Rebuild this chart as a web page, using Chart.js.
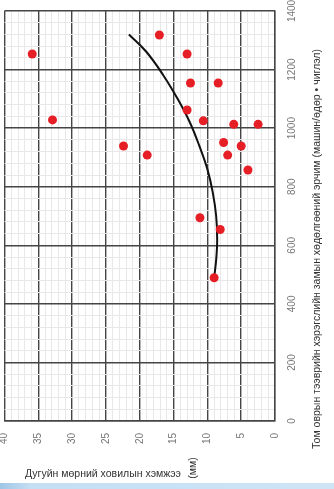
<!DOCTYPE html>
<html><head><meta charset="utf-8">
<script src="https://cdn.jsdelivr.net/npm/chart.js@4.4.0/dist/chart.umd.min.js"></script>
<style>
html,body{margin:0;padding:0;background:#fff;}
#wrap{position:relative;width:334px;height:489px;overflow:hidden;background:#fff;}
#band{position:absolute;left:0;top:483px;width:334px;height:6px;background:linear-gradient(90deg,#9fc6e6 0,#c4def3 30px,#cfe5f6 100%);}
canvas{position:absolute;left:0;top:0;}
</style></head><body>
<div id="wrap"><canvas id="c" width="334" height="489"></canvas><div id="band"></div></div>
<script>
// Measured points: tread depth (mm) vs heavy vehicle traffic (veh/day·direction)
const treadDepth = [35.9, 17.1, 13.0, 12.5, 8.4, 32.9, 13.0, 10.6, 6.1, 2.5, 22.4, 18.9, 7.6, 5.0, 7.0, 4.0, 11.1, 8.1, 9.0];
const traffic    = [1253, 1318, 1253, 1154, 1154, 1028, 1062, 1025, 1013, 1013, 939, 908, 951, 939, 908, 857, 694, 654, 489];
// Trend curve
const curveDepth   = [9.0, 8.7, 8.55, 8.7, 9.2, 10.0, 11.2, 12.6, 14.4, 16.5, 19.0, 21.6];
const curveTraffic = [490, 550, 620, 700, 780, 860, 940, 1020, 1100, 1180, 1260, 1320];
// Tick labels
const xTickLabels = [0, 5, 10, 15, 20, 25, 30, 35, 40];
const yTickLabels = [0, 200, 400, 600, 800, 1000, 1200, 1400];
const xTitle = 'Дугуйн мөрний ховилын хэмжээ';
const xUnit = '(мм)';
const yTitle = 'Том оврын тээврийн хэрэгслийн замын хөдөлгөөний эрчим (машин/өдөр • чиглэл)';

const pts = treadDepth.map((d, i) => ({x: d, y: traffic[i]}));
const curve = curveDepth.map((d, i) => ({x: d, y: curveTraffic[i]}));

const MAJOR = '#454545', MINOR = '#e8e8e8';
const FONT = '"Liberation Sans", Arial, sans-serif';

const titlePlugin = {
  id: 'titles',
  afterDraw(chart) {
    const c = chart.ctx;
    c.save();
    c.fillStyle = '#333';
    c.font = '10.5px ' + FONT;
    c.textBaseline = 'middle';
    c.textAlign = 'left';
    c.fillText(xTitle, 25, 474);
    c.save();
    c.translate(193, 468);
    c.rotate(-Math.PI / 2);
    c.textAlign = 'center';
    c.fillText(xUnit, 0, 0);
    c.restore();
    c.save();
    c.translate(317, 249);
    c.rotate(-Math.PI / 2);
    c.textAlign = 'center';
    c.font = '10.5px ' + FONT;
    c.fillText(yTitle, 0, 0);
    c.restore();
    c.restore();
  }
};

new Chart(document.getElementById('c'), {
  type: 'scatter',
  data: {
    datasets: [
      {
        data: curve,
        showLine: true,
        borderColor: '#111',
        borderWidth: 2,
        pointRadius: 0,
        tension: 0.4,
        fill: false,
        order: 2
      },
      {
        data: pts,
        backgroundColor: '#e61e25',
        borderColor: '#e61e25',
        pointRadius: 4.5,
        borderWidth: 0,
        order: 1
      }
    ]
  },
  options: {
    responsive: false,
    animation: false,
    devicePixelRatio: 1,
    layout: {padding: {left: 4, top: 11, right: 0, bottom: 0}},
    plugins: {legend: {display: false}, tooltip: {enabled: false}},
    scales: {
      x: {
        type: 'linear',
        position: 'bottom',
        reverse: true,
        min: 0, max: 40,
        afterFit: s => { s.height = 68; s.paddingLeft = 0; s.paddingRight = 0; },
        ticks: {
          stepSize: 1, maxTicksLimit: 1000, autoSkip: false,
          minRotation: 90, maxRotation: 90, padding: 12,
          color: '#777', font: {family: FONT, size: 10},
          callback: v => xTickLabels.includes(Math.round(v)) && Math.abs(v - Math.round(v)) < 1e-6 ? String(Math.round(v)) : ''
        },
        grid: {
          drawTicks: false,
          color: ctx => (ctx.tick && Math.round(ctx.tick.value) % 5 === 0) ? MAJOR : MINOR,
          lineWidth: ctx => (ctx.tick && Math.round(ctx.tick.value) % 5 === 0) ? 1.4 : 1
        },
        border: {display: true, color: MAJOR, width: 1.4}
      },
      y: {
        type: 'linear',
        position: 'right',
        min: 0, max: 1400,
        afterFit: s => { s.width = 59; s.paddingTop = 0; s.paddingBottom = 0; },
        ticks: {
          stepSize: 40, maxTicksLimit: 1000, autoSkip: false,
          minRotation: 90, maxRotation: 90, crossAlign: 'center', padding: 6,
          color: '#777', font: {family: FONT, size: 10},
          callback: v => yTickLabels.includes(Math.round(v)) ? String(Math.round(v)) : ''
        },
        grid: {
          drawTicks: false,
          color: ctx => (ctx.tick && Math.round(ctx.tick.value) % 200 === 0) ? MAJOR : MINOR,
          lineWidth: ctx => (ctx.tick && Math.round(ctx.tick.value) % 200 === 0) ? 1.4 : 1
        },
        border: {display: true, color: MAJOR, width: 1.4}
      }
    }
  },
  plugins: [titlePlugin]
});
</script>
</body></html>
